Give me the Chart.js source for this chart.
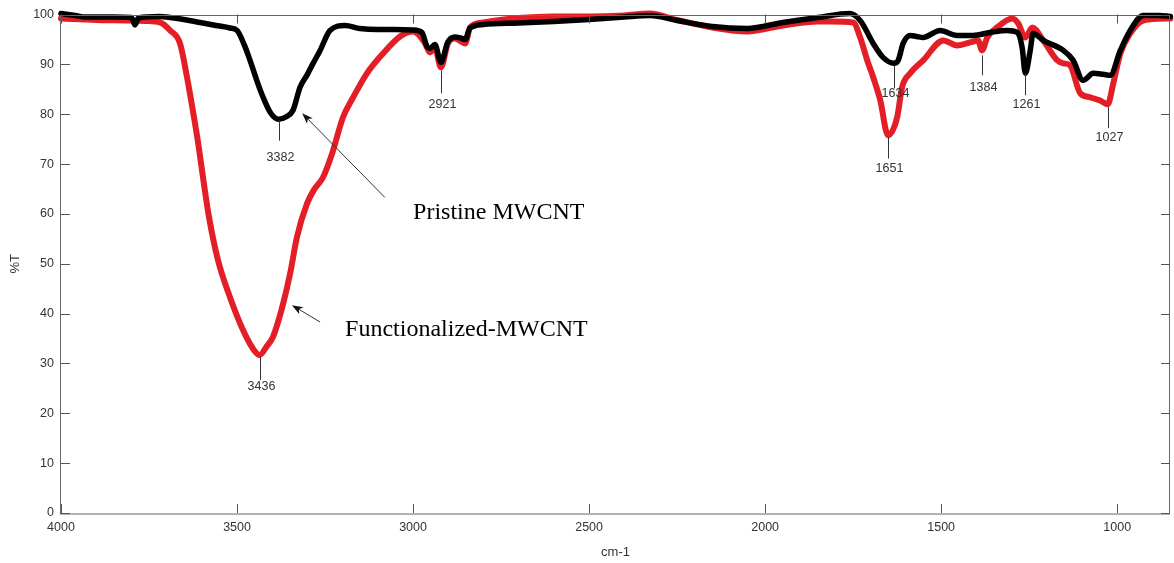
<!DOCTYPE html>
<html lang="en">
<head>
<meta charset="UTF-8">
<title>FTIR - MWCNT</title>
<script src="https://cdnjs.cloudflare.com/ajax/libs/Chart.js/4.4.1/chart.umd.min.js"></script>
<style>
  html, body { margin: 0; padding: 0; background: #fff; }
  #wrap { width: 1174px; height: 563px; }
</style>
</head>
<body>
<div id="wrap"><canvas id="ftirChart"></canvas></div>
<script>
// values: wavenumber (cm-1) and transmittance (%T)
var pristineWn = [4000, 3960, 3930, 3850, 3800, 3790, 3780, 3720, 3690, 3620, 3560, 3520, 3500, 3480, 3463, 3445, 3426, 3405, 3382, 3360,
    3341, 3321, 3300, 3284, 3264, 3236, 3193, 3151, 3100, 3050, 3000, 2975, 2960, 2952, 2938, 2921, 2901, 2881, 2865, 2852,
    2838, 2801, 2700, 2600, 2500, 2400, 2327, 2250, 2150, 2051, 1950, 1850, 1760, 1730, 1693, 1665, 1634, 1622, 1608, 1588,
    1570, 1551, 1503, 1455, 1409, 1361, 1313, 1284, 1270, 1261, 1247, 1239, 1210, 1153, 1125, 1097, 1068, 1040, 1020, 991,
    963, 926, 880, 849]
var pristineT = [100.2, 99.8, 99.5, 99.5, 99.4, 97.9, 99.3, 99.6, 99.4, 98.6, 97.8, 97.3, 96.8, 94, 90.8, 87, 83.4, 80.3, 79, 79.5,
    80.8, 85.4, 88, 90.2, 92.8, 96.8, 97.8, 97.2, 97, 97, 96.9, 96.4, 93.5, 93.2, 94, 90.4, 94.5, 95.5, 95.3, 95,
    97.3, 98, 98.3, 98.6, 99, 99.5, 99.8, 98.8, 97.6, 97.2, 98.4, 99.4, 100.2, 98.8, 94.2, 91.4, 90.2, 90.8, 94.2, 95.8,
    95.6, 95.4, 96.8, 95.8, 95.8, 96.4, 96.8, 96.4, 93.4, 88.2, 92.8, 96.2, 94.8, 92.8, 90.8, 86.8, 88.2, 88, 87.8, 92.8,
    96.8, 99.8, 99.8, 99.6]

var functWn = [4000, 3900, 3804, 3760, 3719, 3690, 3662, 3642, 3625, 3610, 3595, 3580, 3554, 3520, 3483, 3455, 3436, 3415, 3398,
    3369, 3349, 3330, 3301, 3280, 3256, 3230, 3199, 3170, 3131, 3085, 3037, 3000, 2985, 2966, 2952, 2938, 2921, 2901, 2881,
    2852, 2838, 2801, 2700, 2600, 2500, 2400, 2327, 2250, 2150, 2051, 1950, 1850, 1815, 1750, 1730, 1710, 1693, 1673, 1651,
    1625, 1611, 1588, 1551, 1494, 1455, 1418, 1395, 1384, 1369, 1341, 1298, 1281, 1261, 1241, 1210, 1170, 1153, 1134, 1105,
    1077, 1050, 1027, 1011, 991, 963, 926, 849]
var functT = [99.2, 98.9, 98.8, 98.7, 98.4, 96.8, 94.2, 87.4, 80.5, 74, 66.5, 59.5, 50.7, 43.3, 36.7, 33, 31.7, 33.5, 35.3,
    42, 48.1, 55.3, 62.1, 65, 67.3, 72.1, 79.4, 83.4, 88.2, 92.2, 95.6, 96.6, 96, 94.2, 92.4, 93.4, 89.4, 94.2, 95.2,
    94.2, 97.4, 98.4, 99.3, 99.6, 99.6, 99.8, 100.2, 98.9, 97.4, 96.6, 97.8, 98.6, 98.6, 98.4, 95.4, 90.8, 87.4, 82.8, 75.8,
    79.4, 85.4, 88.2, 90.8, 94.8, 93.8, 94.4, 94.8, 92.8, 95.4, 97.4, 99.2, 98.2, 95.4, 97.4, 94.8, 90.8, 90.2, 89.8, 84.2,
    83.4, 82.8, 82, 86.2, 92.2, 96.2, 98.8, 99.2]

var xTicks = [4000, 3500, 3000, 2500, 2000, 1500, 1000]
var yTicks = [0, 10, 20, 30, 40, 50, 60, 70, 80, 90, 100]

// peak markers: wavenumber, label, leader line top / bottom and text centre (in %T)
var peakWn = [3436, 3382, 2921, 1651, 1634, 1384, 1261, 1027]
var peakText = ['3436', '3382', '2921', '1651', '1634', '1384', '1261', '1027']
var peakTop = [31.3, 78.8, 88.8, 75.4, 89.8, 91.8, 88.2, 81.4]
var peakBottom = [26.7, 74.7, 84.2, 71.1, 85.2, 87.8, 83.8, 77.2]
var peakLabelY = [25.3, 71.4, 81.9, 69.1, 84.2, 85.4, 81.9, 75.3]

// series names with arrows (tail -> tip) in data units
var seriesNames = ['Pristine MWCNT', 'Functionalized-MWCNT']
var nameWn = [3000, 3193]
var nameT = [60.3, 36.7]
var arrowFromWn = [3080, 3264]
var arrowFromT = [63.3, 38.3]
var arrowToWn = [3315, 3344]
var arrowToT = [80.2, 41.7]

function toPoints(xs, ys) {
    return xs.map(function (v, i) { return { x: v, y: ys[i] } })
}

var sansFont = '"Liberation Sans", Arial, sans-serif'

var decorations = {
    id: 'decorations',
    afterDatasetsDraw: function (chart) {
        var ctx = chart.ctx
        var xs = chart.scales.x
        var ys = chart.scales.y
        var a = chart.chartArea
        ctx.save()

        // box round the plot
        ctx.strokeStyle = '#666'
        ctx.lineWidth = 1
        ctx.strokeRect(Math.round(a.left) - 0.5, Math.round(a.top) + 0.5,
            Math.round(a.right - a.left), Math.round(a.bottom - a.top) - 0.5)

        // inward ticks on all four sides
        ctx.strokeStyle = '#555'
        ctx.beginPath()
        xTicks.forEach(function (v) {
            var px = Math.round(xs.getPixelForValue(v)) + 0.5
            ctx.moveTo(px, a.bottom); ctx.lineTo(px, a.bottom - 9)
            ctx.moveTo(px, a.top); ctx.lineTo(px, a.top + 9)
        })
        yTicks.forEach(function (v) {
            var py = Math.round(ys.getPixelForValue(v)) + 0.5
            ctx.moveTo(a.left, py); ctx.lineTo(a.left + 9, py)
            ctx.moveTo(a.right, py); ctx.lineTo(a.right - 9, py)
        })
        ctx.stroke()

        // peak leaders and labels
        ctx.font = '12.5px ' + sansFont
        ctx.textAlign = 'center'
        ctx.textBaseline = 'middle'
        peakWn.forEach(function (wn, i) {
            var px = Math.round(xs.getPixelForValue(wn)) + 0.5
            ctx.strokeStyle = '#333'
            ctx.beginPath()
            ctx.moveTo(px, ys.getPixelForValue(peakTop[i]))
            ctx.lineTo(px, ys.getPixelForValue(peakBottom[i]))
            ctx.stroke()
            ctx.fillStyle = '#333'
            ctx.fillText(peakText[i], px + 1, ys.getPixelForValue(peakLabelY[i]))
        })

        // series names and arrows
        ctx.font = '24px "Liberation Serif", "Times New Roman", serif'
        ctx.textAlign = 'left'
        ctx.fillStyle = '#000'
        seriesNames.forEach(function (name, i) {
            ctx.fillText(name, xs.getPixelForValue(nameWn[i]), ys.getPixelForValue(nameT[i]))
            var x0 = xs.getPixelForValue(arrowFromWn[i]), y0 = ys.getPixelForValue(arrowFromT[i])
            var x1 = xs.getPixelForValue(arrowToWn[i]), y1 = ys.getPixelForValue(arrowToT[i])
            var ang = Math.atan2(y1 - y0, x1 - x0)
            ctx.strokeStyle = '#333'
            ctx.lineWidth = 1
            ctx.beginPath()
            ctx.moveTo(x0, y0)
            ctx.lineTo(x1 - 6 * Math.cos(ang), y1 - 6 * Math.sin(ang))
            ctx.stroke()
            ctx.fillStyle = '#111'
            ctx.beginPath()
            ctx.moveTo(x1, y1)
            ctx.lineTo(x1 - 11 * Math.cos(ang) + 4 * Math.sin(ang), y1 - 11 * Math.sin(ang) - 4 * Math.cos(ang))
            ctx.lineTo(x1 - 8 * Math.cos(ang), y1 - 8 * Math.sin(ang))
            ctx.lineTo(x1 - 11 * Math.cos(ang) - 4 * Math.sin(ang), y1 - 11 * Math.sin(ang) + 4 * Math.cos(ang))
            ctx.closePath()
            ctx.fill()
            ctx.fillStyle = '#000'
        })
        ctx.restore()
    }
}

var ftirChart = new Chart(document.getElementById('ftirChart').getContext('2d'), {
    type: 'line',
    data: {
        datasets: [
            {
                label: 'Pristine MWCNT',
                data: toPoints(pristineWn, pristineT),
                borderColor: '#000000',
                borderWidth: 5.5,
                pointRadius: 0,
                cubicInterpolationMode: 'monotone',
                borderCapStyle: 'round',
                borderJoinStyle: 'round',
                fill: false,
                clip: 5
            },
            {
                label: 'Functionalized-MWCNT',
                data: toPoints(functWn, functT),
                borderColor: '#e41e26',
                borderWidth: 6,
                pointRadius: 0,
                cubicInterpolationMode: 'monotone',
                borderCapStyle: 'round',
                borderJoinStyle: 'round',
                fill: false,
                clip: 5
            }
        ]
    },
    options: {
        responsive: true,
        maintainAspectRatio: false,
        animation: false,
        events: [],
        layout: { padding: { left: 0, right: 4, top: 14, bottom: 0 } },
        plugins: {
            legend: { display: false },
            tooltip: { enabled: false }
        },
        scales: {
            x: {
                type: 'linear',
                reverse: true,
                min: 850,
                max: 4000,
                afterFit: function (s) { s.height = 50 },
                afterBuildTicks: function (s) { s.ticks = xTicks.map(function (v) { return { value: v } }) },
                grid: { display: false, drawTicks: false },
                border: { display: false },
                ticks: {
                    padding: 7,
                    maxRotation: 0,
                    autoSkip: false,
                    color: '#333',
                    font: { family: sansFont, size: 12.5 },
                    callback: function (v) { return String(v) }
                },
                title: {
                    display: true,
                    text: 'cm-1',
                    color: '#333',
                    font: { family: sansFont, size: 13 },
                    padding: { top: 0, bottom: 3 }
                }
            },
            y: {
                min: 0,
                max: 100,
                afterFit: function (s) { s.width = 61 },
                afterBuildTicks: function (s) { s.ticks = yTicks.map(function (v) { return { value: v } }) },
                grid: { display: false, drawTicks: false },
                border: { display: false },
                ticks: {
                    padding: 7,
                    color: '#333',
                    font: { family: sansFont, size: 12.5 },
                    callback: function (v) { return String(v) }
                },
                title: {
                    display: true,
                    text: '%T',
                    color: '#333',
                    font: { family: sansFont, size: 13 },
                    padding: { top: 8, bottom: 0 }
                }
            }
        }
    },
    plugins: [decorations]
})
</script>
</body>
</html>
